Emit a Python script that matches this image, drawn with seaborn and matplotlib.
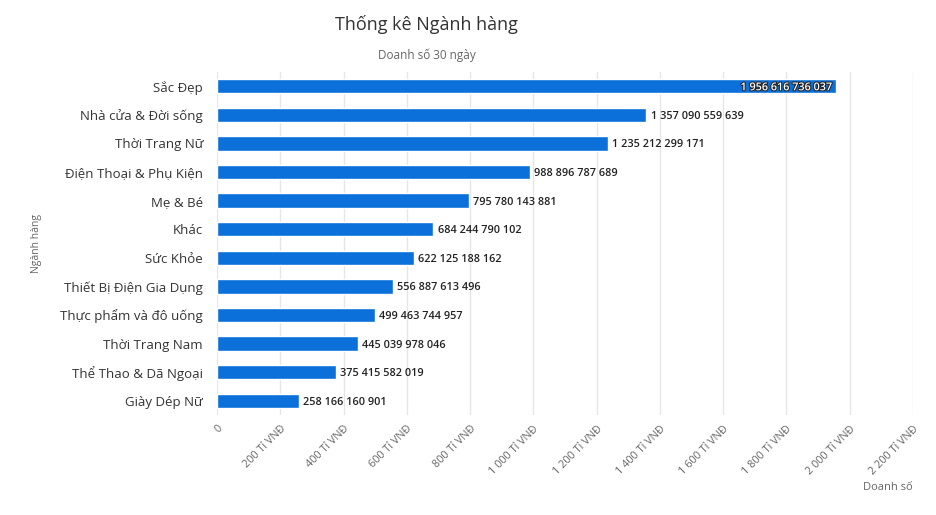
import matplotlib
matplotlib.use("Agg")
import matplotlib.pyplot as plt
import matplotlib.patheffects as pe
from matplotlib.ticker import FuncFormatter, MultipleLocator
import seaborn as sns
import pandas as pd

categories = [
    "Sắc Đẹp", "Nhà cửa & Đời sống", "Thời Trang Nữ", "Điện Thoại & Phụ Kiện",
    "Mẹ & Bé", "Khác", "Sức Khỏe", "Thiết Bị Điện Gia Dụng",
    "Thực phẩm và đô uống", "Thời Trang Nam", "Thể Thao & Dã Ngoại", "Giày Dép Nữ",
]
values = [
    1956616736037, 1357090559639, 1235212299171, 988896787689,
    795780143881, 684244790102, 622125188162, 556887613496,
    499463744957, 445039978046, 375415582019, 258166160901,
]
title = "Thống kê Ngành hàng"
subtitle = "Doanh số 30 ngày"
x_label = "Doanh số"
y_label = "Ngành hàng"

sns.set_theme(style="white")
plt.rcParams["font.family"] = ["Open Sans", "DejaVu Sans"]

df = pd.DataFrame({"cat": categories, "val": values})

fig = plt.figure(figsize=(9.37, 5.15), dpi=100)
ax = fig.add_axes([217 / 937, 1 - 415 / 515, (913 - 217) / 937, (415 - 72) / 515])

sns.barplot(data=df, x="val", y="cat", orient="h", color="#0b70d9",
            saturation=1, width=0.5, ax=ax, zorder=3)

ax.set_xlim(0, 2.2e12)
ax.xaxis.set_major_locator(MultipleLocator(2e11))


def fmt_tick(v, pos):
    b = int(round(v / 1e9))
    if b == 0:
        return "0"
    return f"{b:,}".replace(",", " ") + " Tỉ VNĐ"


ax.xaxis.set_major_formatter(FuncFormatter(fmt_tick))
ax.grid(axis="x", color="#e6e6e6", linewidth=1, zorder=0)
ax.grid(axis="y", visible=False)
for s in ax.spines.values():
    s.set_visible(False)

ax.tick_params(axis="x", length=0, pad=6, labelsize=7.8, labelcolor="#666666")
ax.tick_params(axis="y", length=0, pad=10, labelsize=9.5, labelcolor="#333333")
for lab in ax.get_xticklabels():
    lab.set_rotation(45)
    lab.set_ha("right")
    lab.set_va("top")
    lab.set_rotation_mode("anchor")
for lab in ax.get_yticklabels():
    lab.set_va("center_baseline")

ax.set_xlabel("")
ax.set_ylabel("")
fig.text(37 / 937, 1 - 243 / 515, y_label, rotation=90, ha="center", va="center",
         fontsize=7.5, color="#666666")
fig.text(888 / 937, 1 - 488 / 515, x_label, ha="center", va="center",
         fontsize=8, color="#666666")

fig.text(426 / 937, 1 - 24 / 515, title, ha="center", va="center",
         fontsize=13, color="#333333")
fig.text(427 / 937, 1 - 55 / 515, subtitle, ha="center", va="center",
         fontsize=8.5, color="#666666")

xmax = ax.get_xlim()[1]
for patch, v in zip(ax.patches, values):
    w = patch.get_width()
    yc = patch.get_y() + patch.get_height() / 2
    txt = f"{v:,}".replace(",", " ")
    if w > 0.85 * xmax:
        ax.text(w - xmax * 0.004, yc, txt, ha="right", va="center_baseline",
                fontsize=7.8, fontweight="semibold", color="white", zorder=5,
                path_effects=[pe.withStroke(linewidth=1.5, foreground="#222222")])
    else:
        ax.text(w + xmax * 0.006, yc, txt, ha="left", va="center_baseline",
                fontsize=7.8, fontweight="semibold", color="#222222", zorder=5)

fig.savefig("out.png", dpi=100)
